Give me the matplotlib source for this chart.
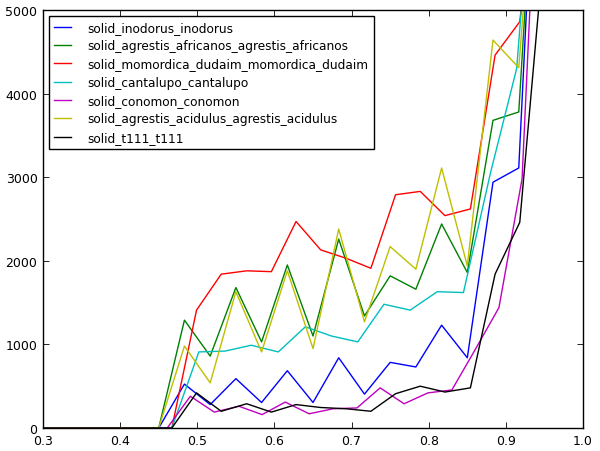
import matplotlib
matplotlib.use("Agg")
import matplotlib.pyplot as plt

labels = ["solid_inodorus_inodorus",
          "solid_agrestis_africanos_agrestis_africanos",
          "solid_momordica_dudaim_momordica_dudaim",
          "solid_cantalupo_cantalupo",
          "solid_conomon_conomon",
          "solid_agrestis_acidulus_agrestis_acidulus",
          "solid_t111_t111"]
colors = ["b", "g", "r", "c", "m", "y", "k"]

# x grids (each series has its own spacing)
x_a = [0.28, 0.45, 0.4833, 0.5167, 0.55, 0.5833, 0.6167, 0.65, 0.6833,
       0.7167, 0.75, 0.7833, 0.8167, 0.85, 0.8833, 0.9167, 0.95]
x_r = [0.28, 0.467, 0.499, 0.531, 0.564, 0.596, 0.628, 0.660, 0.693,
       0.725, 0.757, 0.789, 0.821, 0.854, 0.886, 0.918, 0.950]
x_c = [0.28, 0.467, 0.502, 0.536, 0.570, 0.605, 0.640, 0.674, 0.708,
       0.742, 0.776, 0.811, 0.845, 0.880, 0.914, 0.948]
x_m = [0.28, 0.461, 0.491, 0.522, 0.554, 0.584, 0.614, 0.645, 0.676,
       0.707, 0.737, 0.768, 0.799, 0.830, 0.861, 0.891, 0.921, 0.953]

inodorus = [0, 0, 525, 280, 590, 305, 685, 305, 840, 405, 785, 730, 1230, 840, 2940, 3110, 9400]
africanos = [0, 0, 1290, 860, 1680, 1030, 1950, 1100, 2260, 1340, 1820, 1660, 2440, 1860, 3680, 3780, 8800]
dudaim = [0, 0, 1410, 1840, 1880, 1870, 2470, 2130, 2030, 1910, 2790, 2830, 2540, 2620, 4460, 4860, 7500]
cantalupo = [0, 0, 910, 920, 990, 910, 1210, 1100, 1030, 1480, 1410, 1630, 1620, 3050, 4300, 8300]
conomon = [0, 0, 380, 190, 260, 160, 310, 170, 230, 240, 480, 290, 420, 455, 950, 1440, 2980, 9400]
acidulus = [0, 0, 980, 540, 1630, 910, 1880, 950, 2380, 1270, 2170, 1900, 3110, 1940, 4640, 4310, 8200]
t111 = [0, 0, 420, 200, 290, 190, 280, 245, 230, 200, 410, 500, 430, 480, 1840, 2460, 5800]

series = [(x_a, inodorus), (x_a, africanos), (x_r, dudaim), (x_c, cantalupo),
          (x_m, conomon), (x_a, acidulus), (x_r, t111)]

fig = plt.figure(figsize=(6.0, 4.52), dpi=100)
ax = fig.add_axes([0.0717, 0.0509, 0.9, 0.9248])

for (xs, ys), lab, col in zip(series, labels, colors):
    ax.plot(xs, ys, color=col, lw=1.0, label=lab)

ax.set_xlim(0.3, 1.0)
ax.set_ylim(0, 5000)
ax.set_xticks([0.3, 0.4, 0.5, 0.6, 0.7, 0.8, 0.9, 1.0])
ax.set_yticks([0, 1000, 2000, 3000, 4000, 5000])
ax.tick_params(direction="in", top=True, right=True, length=4, width=0.6,
               labelsize=9, pad=4)
for s in ax.spines.values():
    s.set_linewidth(1.0)

leg = ax.legend(loc="upper left", fontsize=8.7, fancybox=False, framealpha=1,
                edgecolor="k", handlelength=1.4, handletextpad=1.4,
                labelspacing=0.44, borderpad=0.4)
leg.get_frame().set_linewidth(1.0)

fig.savefig("out.png", dpi=100)
